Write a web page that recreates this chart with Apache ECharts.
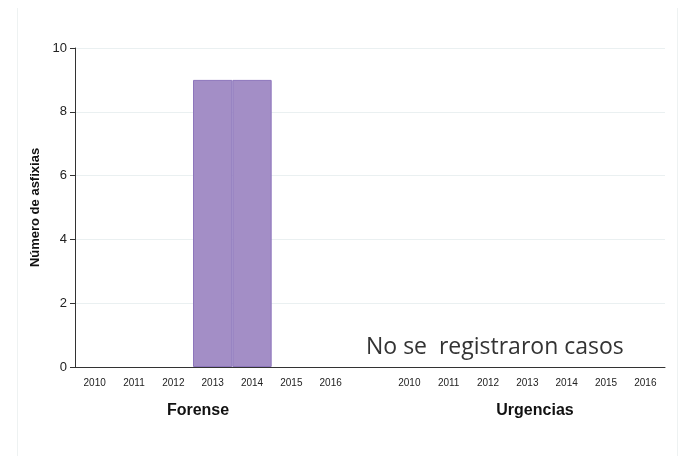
<!DOCTYPE html>
<html>
<head>
<meta charset="utf-8">
<script src="https://cdn.jsdelivr.net/npm/echarts@6/dist/echarts.min.js"></script>
<style>
  html, body { margin: 0; padding: 0; background: #fff; }
  #chart { width: 680px; height: 456px; }
</style>
</head>
<body>
<div id="chart"></div>
<script>
// datos
const years = ['2010', '2011', '2012', '2013', '2014', '2015', '2016'];
const forenseValues = [0, 0, 0, 9, 9, 0, 0];
const urgenciasValues = [0, 0, 0, 0, 0, 0, 0];
const yTicks = [0, 2, 4, 6, 8, 10];

// eje x: Forense, hueco, Urgencias
const categories = years.map(y => 'F' + y).concat(['gap']).concat(years.map(y => 'U' + y));
const values = forenseValues.concat([null]).concat(urgenciasValues).map(v => (v ? v : null));

const chart = echarts.init(document.getElementById('chart'));

chart.setOption({
    animation: false,
    textStyle: { fontFamily: 'Liberation Sans, Arial, sans-serif' },
    grid: {
        left: 75,
        right: 15,
        top: 48,
        bottom: 89,
        containLabel: false
    },
    xAxis: {
        type: 'category',
        data: categories,
        axisLine: { lineStyle: { color: '#333', width: 1 } },
        axisTick: {
            alignWithLabel: true,
            length: 5,
            interval: (i, v) => v !== 'gap',
            lineStyle: { color: '#333' }
        },
        axisLabel: {
            interval: 0,
            fontSize: 10,
            color: '#222',
            fontFamily: 'Liberation Sans, Arial, sans-serif',
            margin: 11,
            formatter: v => (v === 'gap' ? '' : v.slice(1))
        },
        splitLine: { show: false }
    },
    yAxis: {
        type: 'value',
        min: yTicks[0],
        max: yTicks[yTicks.length - 1],
        interval: 2,
        name: 'Número de asfixias',
        nameLocation: 'middle',
        nameGap: 32,
        nameTextStyle: { fontSize: 13, fontWeight: 'bold', color: '#111', fontFamily: 'Liberation Sans, Arial, sans-serif' },
        axisLine: { show: true, lineStyle: { color: '#333', width: 1 } },
        axisTick: { show: true, length: 5, lineStyle: { color: '#333' } },
        axisLabel: { fontSize: 13, color: '#222', margin: 8, fontFamily: 'Liberation Sans, Arial, sans-serif' },
        splitLine: { lineStyle: { color: '#eaf0f1', width: 1 } }
    },
    series: [{
        type: 'bar',
        data: values,
        barCategoryGap: '0%',
        itemStyle: {
            color: '#a38ec6',
            borderColor: '#8d76bc',
            borderWidth: 1
        }
    }],
    graphic: [
        { type: 'line', shape: { x1: 17.5, y1: 8, x2: 17.5, y2: 456 }, style: { stroke: '#eef2f2', lineWidth: 1 } },
        { type: 'line', shape: { x1: 677.5, y1: 8, x2: 677.5, y2: 456 }, style: { stroke: '#eef2f2', lineWidth: 1 } },
        {
            type: 'text', x: 366, y: 347,
            style: { text: 'No se  registraron casos', fontSize: 23, fill: '#333', fontFamily: 'Open Sans, sans-serif', verticalAlign: 'middle' }
        },
        {
            type: 'text', x: 198, y: 411,
            style: { text: 'Forense', fontSize: 16, fontWeight: 'bold', fill: '#111', align: 'center', verticalAlign: 'middle', fontFamily: 'Liberation Sans, Arial, sans-serif' }
        },
        {
            type: 'text', x: 535, y: 411,
            style: { text: 'Urgencias', fontSize: 16, fontWeight: 'bold', fill: '#111', align: 'center', verticalAlign: 'middle', fontFamily: 'Liberation Sans, Arial, sans-serif' }
        }
    ]
});
</script>
</body>
</html>
